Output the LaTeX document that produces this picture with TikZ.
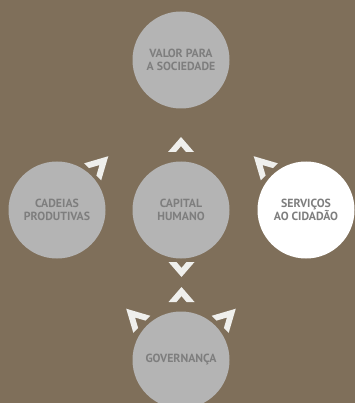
\documentclass[tikz,border=0pt]{standalone}
\usepackage{fontspec}
\setmainfont{PT Sans}
\definecolor{bg}{HTML}{7F6F5A}
\definecolor{circ}{HTML}{B4B4B4}
\definecolor{txt}{HTML}{7E7E7E}
\definecolor{chev}{HTML}{EFEFEC}
\tikzset{
  bubble/.style={circle, fill=circ, draw=none, minimum size=97pt, inner sep=0pt,
    align=center, text=txt, font=\bfseries\fontsize{11.8}{12.5}\selectfont},
  whitebubble/.style={bubble, fill=white},
  straightchev/.pic={\fill[chev] (-13,7.5) -- (0,-7.5) -- (13,7.5) -- (5,7.5) -- (0,1.6) -- (-5,7.5) -- cycle;},
  diagchev/.pic={\fill[chev] (-12,11) -- (0,-11) -- (12,11) -- (5.2,11) -- (0,1.5) -- (-5.2,11) -- cycle;}
}
\begin{document}
\begin{tikzpicture}[x=1pt,y=-1pt]
\fill[bg] (0,0) rectangle (355,403);
\useasboundingbox (0,0) rectangle (355,403);
\begin{scope}
\clip (0,0) rectangle (355,403);
\node[bubble] (valor) at (181,60) {VALOR PARA\\A SOCIEDADE};
\node[bubble] (cadeias) at (57,210) {CADEIAS\\PRODUTIVAS};
\node[bubble] (capital) at (181,210) {CAPITAL\\HUMANO};
\node[whitebubble] (servicos) at (306,210) {SERVIÇOS\\AO CIDADÃO};
\node[bubble] (gov) at (181,360) {GOVERNANÇA};
\end{scope}
\pic at (181,144.5) {straightchev};
\pic[rotate=180] at (181.5,269.5) {straightchev};
\pic at (181.5,294.5) {straightchev};
\pic[rotate=-45] at (100.5,164) {diagchev};
\pic[rotate=45] at (261.5,164) {diagchev};
\pic[rotate=45] at (134,316.5) {diagchev};
\pic[rotate=-45] at (228,316.5) {diagchev};
\end{tikzpicture}
\end{document}
